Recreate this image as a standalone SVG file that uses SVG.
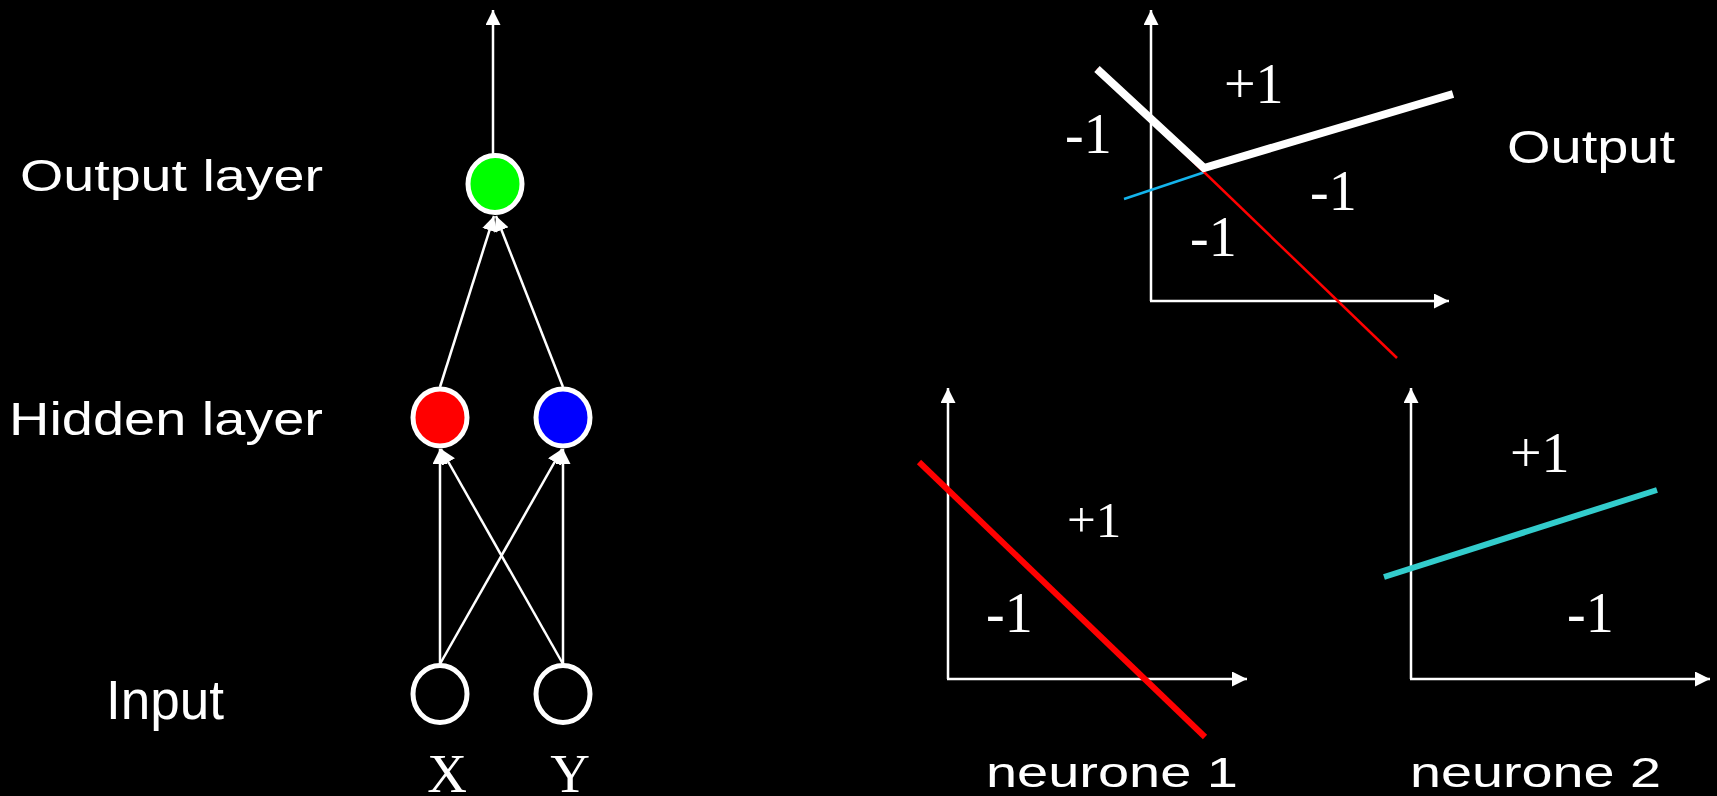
<svg xmlns="http://www.w3.org/2000/svg" width="1717" height="796" viewBox="0 0 1717 796">
<style>
.sans{font-family:"Liberation Sans",Arial,sans-serif;fill:#fff}
.serif{font-family:"Liberation Serif","Times New Roman",serif;fill:#fff}
.conn{stroke:#fff;stroke-width:2.5;fill:none;marker-end:url(#arr)}
.node{stroke:#fff;stroke-width:5}
.axis{stroke:#fff;stroke-width:2.5;fill:none;marker-end:url(#arr)}
</style>
<defs>
<marker id="arr" markerUnits="userSpaceOnUse" markerWidth="16" markerHeight="16" refX="15" refY="7.5" orient="auto">
<path d="M0,0 L15,7.5 L0,15 z" fill="#fff"/>
</marker>
</defs>
<rect width="1717" height="796" fill="#000"/>

<g id="labels">
<text class="sans" x="20" y="191" font-size="45" textLength="303" lengthAdjust="spacingAndGlyphs">Output layer</text>
<text class="sans" x="9" y="435" font-size="46" textLength="314" lengthAdjust="spacingAndGlyphs">Hidden layer</text>
<text class="sans" x="106" y="719" font-size="56" textLength="118" lengthAdjust="spacingAndGlyphs">Input</text>
<text class="serif" x="447" y="792" font-size="55" text-anchor="middle">X</text>
<text class="serif" x="570" y="792" font-size="55" text-anchor="middle">Y</text>
</g>

<g id="connectors">
<line class="conn" x1="493" y1="155" x2="493" y2="10"/>
<line class="conn" x1="440" y1="387" x2="494" y2="216"/>
<line class="conn" x1="563" y1="387" x2="496" y2="216"/>
<line class="conn" x1="440" y1="664" x2="440" y2="449"/>
<line class="conn" x1="440" y1="664" x2="562" y2="449"/>
<line class="conn" x1="563" y1="664" x2="441" y2="449"/>
<line class="conn" x1="563" y1="664" x2="563" y2="449"/>
</g>

<g id="node-output"><ellipse class="node" cx="495" cy="184" rx="27" ry="28.5" fill="#00ff00"/></g>
<g id="node-hidden1"><ellipse class="node" cx="440" cy="417.5" rx="27" ry="28.5" fill="#ff0000"/></g>
<g id="node-hidden2"><ellipse class="node" cx="563" cy="417.5" rx="27" ry="28.5" fill="#0000ff"/></g>
<g id="node-x"><ellipse class="node" cx="440" cy="694" rx="27" ry="28.5" fill="none"/></g>
<g id="node-y"><ellipse class="node" cx="563" cy="694" rx="27" ry="28.5" fill="none"/></g>

<g id="plot-output">
<line class="axis" x1="1151" y1="301" x2="1151" y2="10"/>
<line class="axis" x1="1150" y1="301" x2="1449" y2="301"/>
<line x1="1124" y1="199" x2="1205" y2="172" stroke="#14b4ec" stroke-width="2.5"/>
<line x1="1097" y1="69" x2="1397" y2="358" stroke="#ff0000" stroke-width="2.5"/>
<polyline points="1097,69 1204,168 1453,94" fill="none" stroke="#fff" stroke-width="8" stroke-linejoin="miter"/>
<text class="serif" x="1224" y="103" font-size="56">+1</text>
<text class="serif" x="1065" y="153" font-size="56">-1</text>
<text class="serif" x="1310" y="210" font-size="56">-1</text>
<text class="serif" x="1190" y="256" font-size="56">-1</text>
<text class="sans" x="1507" y="163" font-size="46" textLength="168" lengthAdjust="spacingAndGlyphs">Output</text>
</g>

<g id="plot-neurone1">
<line class="axis" x1="948" y1="679" x2="948" y2="388"/>
<line class="axis" x1="947" y1="679" x2="1247" y2="679"/>
<line x1="919" y1="462" x2="1205" y2="737" stroke="#ff0000" stroke-width="6"/>
<text class="serif" x="1067" y="537" font-size="51">+1</text>
<text class="serif" x="986" y="632" font-size="56">-1</text>
<text class="sans" x="986" y="787" font-size="42" textLength="252" lengthAdjust="spacingAndGlyphs">neurone 1</text>
</g>

<g id="plot-neurone2">
<line class="axis" x1="1411" y1="679" x2="1411" y2="388"/>
<line class="axis" x1="1410" y1="679" x2="1710" y2="679"/>
<line x1="1384" y1="577" x2="1657" y2="490" stroke="#33cccc" stroke-width="6"/>
<text class="serif" x="1510" y="472" font-size="56">+1</text>
<text class="serif" x="1567" y="632" font-size="56">-1</text>
<text class="sans" x="1410" y="787" font-size="42" textLength="251" lengthAdjust="spacingAndGlyphs">neurone 2</text>
</g>
</svg>
